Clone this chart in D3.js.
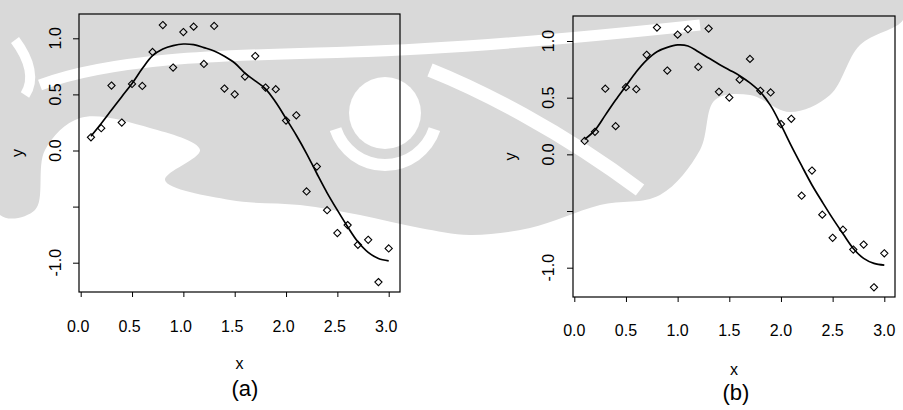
<!DOCTYPE html>
<html>
<head>
<meta charset="utf-8">
<script src="https://cdn.jsdelivr.net/npm/d3@7"></script>
<style>
  body { margin: 0; background: #fff; }
  svg { display: block; }
  text { font-family: "Liberation Sans", Arial, sans-serif; fill: #000; }
</style>
</head>
<body>
<div id="viz"></div>
<script>
// observed points (same data in both panels)
var xs = [0.1, 0.2, 0.3, 0.4, 0.5, 0.6, 0.7, 0.8, 0.9, 1.0,
          1.1, 1.2, 1.3, 1.4, 1.5, 1.6, 1.7, 1.8, 1.9, 2.0,
          2.1, 2.2, 2.3, 2.4, 2.5, 2.6, 2.7, 2.8, 2.9, 3.0];
var ys = [0.118, 0.199, 0.579, 0.249, 0.593, 0.575, 0.878, 1.118, 0.739, 1.056,
          1.104, 0.771, 1.110, 0.552, 0.501, 0.659, 0.842, 0.561, 0.546, 0.267,
          0.314, -0.365, -0.143, -0.532, -0.736, -0.665, -0.840, -0.796, -1.173, -0.873];
// fitted curves
var fitA = [0.127, 0.24, 0.36, 0.48, 0.597, 0.73, 0.845, 0.905, 0.935, 0.949,
            0.943, 0.917, 0.887, 0.84, 0.78, 0.69, 0.62, 0.55, 0.43, 0.285,
            0.136, -0.027, -0.205, -0.377, -0.532, -0.68, -0.814, -0.908, -0.962, -0.983];
var fitB = [0.132, 0.214, 0.346, 0.479, 0.603, 0.729, 0.832, 0.906, 0.944, 0.965,
            0.956, 0.905, 0.85, 0.795, 0.745, 0.694, 0.63, 0.55, 0.43, 0.26,
            0.075, -0.10, -0.27, -0.42, -0.565, -0.70, -0.83, -0.918, -0.962, -0.977];
var xTicks = [0, 0.5, 1, 1.5, 2, 2.5, 3];
var xTickLabels = ["0.0", "0.5", "1.0", "1.5", "2.0", "2.5", "3.0"];
var yTicks = [-1, -0.5, 0, 0.5, 1];
var yTickLabels = ["-1.0", "", "0.0", "0.5", "1.0"];

var width = 903, height = 410;

var svg = d3.select("#viz").append("svg")
    .attr("width", width)
    .attr("height", height);

// background watermark
var wm = svg.append("g");
var gray = "#d9d9d9";
var envelope = [[0,0],[903,0],[903,20],[860,45],[830,95],[790,112],[750,95],[715,100],[700,150],
                [660,195],[600,205],[530,228],[470,235],[420,228],[360,215],[300,205],[230,200],
                [165,180],[200,150],[150,128],[80,118],[45,150],[35,210],[0,215]];
wm.append("path")
    .attr("d", d3.line().curve(d3.curveCatmullRomClosed)(envelope))
    .attr("fill", gray);
wm.append("circle").attr("cx", 385).attr("cy", 113).attr("r", 36).attr("fill", "#fff");
wm.append("path")
    .attr("d", d3.arc()({innerRadius: 46, outerRadius: 58, startAngle: Math.PI * 0.6, endAngle: Math.PI * 1.4}))
    .attr("transform", "translate(385,113)")
    .attr("fill", "#fff");
wm.append("path")
    .attr("d", "M40,85 C120,55 250,55 350,52 S560,40 700,25")
    .attr("fill", "none").attr("stroke", "#fff").attr("stroke-width", 11);
wm.append("path")
    .attr("d", "M430,70 C480,90 560,130 640,190")
    .attr("fill", "none").attr("stroke", "#fff").attr("stroke-width", 14);
wm.append("path")
    .attr("d", "M15,40 C30,60 35,80 25,95")
    .attr("fill", "none").attr("stroke", "#fff").attr("stroke-width", 10);

var panels = [
  {fit: fitA, left: 79, right: 400, top: 14, bottom: 292,
   x0: 80.7, x3: 388.7, yLo: 262.7, yHi: 38.3, labOff: -2.5, labY: 332,
   yTitleX: 18.5, yLabX: 55.5, xTitleY: 363, tag: "(a)", tagX: 245, tagY: 388},
  {fit: fitB, left: 573, right: 895, top: 16, bottom: 297,
   x0: 574.3, x3: 884.3, yLo: 267.7, yHi: 41, labOff: 0, labY: 336,
   yTitleX: 511.5, yLabX: 548, xTitleY: 369, tag: "(b)", tagX: 736, tagY: 392}
];

panels.forEach(function(p) {
  var x = d3.scaleLinear().domain([0, 3]).range([p.x0, p.x3]);
  var y = d3.scaleLinear().domain([-1, 1]).range([p.yLo, p.yHi]);
  var g = svg.append("g");

  g.append("rect")
      .attr("x", p.left).attr("y", p.top)
      .attr("width", p.right - p.left).attr("height", p.bottom - p.top)
      .attr("fill", "none").attr("stroke", "#000").attr("stroke-width", 1.2);

  // x axis
  var xa = g.append("g")
      .attr("transform", "translate(0," + p.bottom + ")")
      .call(d3.axisBottom(x).tickValues(xTicks).tickSize(5).tickFormat(""));
  xa.select(".domain").remove();
  g.selectAll(".xlab").data(xTicks).enter().append("text")
      .attr("x", function(d) { return x(d) + p.labOff; })
      .attr("y", p.labY)
      .attr("text-anchor", "middle")
      .style("font-size", "16px")
      .text(function(d, i) { return xTickLabels[i]; });

  // y axis
  var ya = g.append("g")
      .attr("transform", "translate(" + p.left + ",0)")
      .call(d3.axisLeft(y).tickValues(yTicks).tickSize(6).tickFormat(""));
  ya.select(".domain").remove();
  g.selectAll(".ylab").data(yTicks).enter().append("text")
      .attr("transform", function(d) { return "translate(" + p.yLabX + "," + y(d) + ") rotate(-90)"; })
      .attr("text-anchor", "middle")
      .attr("dy", "0.36em")
      .style("font-size", "16px")
      .text(function(d, i) { return yTickLabels[i]; });

  // titles
  g.append("text")
      .attr("x", (p.left + p.right) / 2).attr("y", p.xTitleY)
      .attr("dy", "0.36em").attr("text-anchor", "middle")
      .style("font-size", "16px").text("x");
  g.append("text")
      .attr("transform", "translate(" + p.yTitleX + "," + (p.top + p.bottom) / 2 + ") rotate(-90)")
      .attr("dy", "0.3em").attr("text-anchor", "middle")
      .style("font-size", "16px").text("y");
  g.append("text")
      .attr("x", p.tagX).attr("y", p.tagY)
      .attr("dy", "0.36em").attr("text-anchor", "middle")
      .style("font-size", "22px").text(p.tag);

  // fitted curve
  g.append("path")
      .datum(p.fit)
      .attr("fill", "none").attr("stroke", "#000").attr("stroke-width", 1.7)
      .attr("d", d3.line()
          .x(function(d, i) { return x(xs[i]); })
          .y(function(d) { return y(d); })
          .curve(d3.curveCatmullRom));

  // points as open diamonds
  g.selectAll(".pt").data(ys).enter().append("path")
      .attr("d", "M0,-3.6L3.6,0L0,3.6L-3.6,0Z")
      .attr("transform", function(d, i) { return "translate(" + x(xs[i]) + "," + y(d) + ")"; })
      .attr("fill", "none").attr("stroke", "#000").attr("stroke-width", 1.1);
});
</script>
</body>
</html>
